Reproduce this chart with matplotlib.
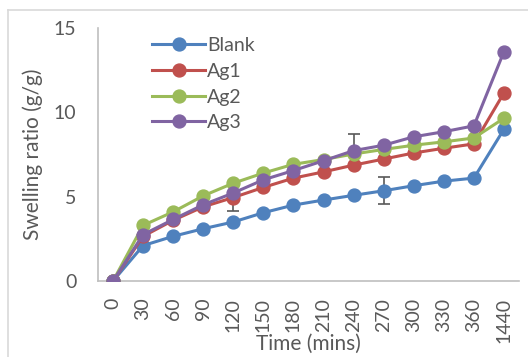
import matplotlib
matplotlib.use("Agg")
import matplotlib.pyplot as plt
from matplotlib.lines import Line2D
import numpy as np

times = ["0", "30", "60", "90", "120", "150", "180", "210", "240", "270", "300", "330", "360", "1440"]
blank = [0, 2.1, 2.65, 3.1, 3.5, 4.05, 4.5, 4.8, 5.08, 5.35, 5.65, 5.92, 6.1, 9.0]
ag1 = [0, 2.65, 3.6, 4.4, 4.95, 5.55, 6.1, 6.47, 6.87, 7.23, 7.59, 7.87, 8.13, 11.15]
ag2 = [0, 3.3, 4.1, 5.05, 5.8, 6.4, 6.92, 7.2, 7.53, 7.8, 8.05, 8.25, 8.48, 9.65]
ag3 = [0, 2.75, 3.65, 4.52, 5.22, 6.0, 6.55, 7.13, 7.73, 8.05, 8.55, 8.85, 9.2, 13.6]
blank_err = [0, 0, 0, 0, 0, 0, 0, 0, 0, 0.8, 0, 0, 0, 0]
ag1_err = [0, 0, 0, 0, 0.8, 0, 0, 0, 0, 0, 0, 0, 0, 0]
ag2_err = [0] * 14
ag3_err = [0, 0, 0, 0, 0, 0, 0, 0, 1.0, 0, 0, 0, 0, 0]

series = [
    ("Blank", blank, blank_err, "#4f81bd"),
    ("Ag1", ag1, ag1_err, "#c0504d"),
    ("Ag2", ag2, ag2_err, "#9bbb59"),
    ("Ag3", ag3, ag3_err, "#8064a2"),
]

plt.rcParams['font.family'] = ['Lato', 'DejaVu Sans']
W, H = 528, 357
fig = plt.figure(figsize=(W / 100, H / 100), dpi=100)
ax = fig.add_axes([98 / W, 1 - 281 / H, 421 / W, 253 / H])

x = np.arange(len(times))
for name, vals, err, col in series:
    err = np.array(err, dtype=float)
    m = err > 0
    if m.any():
        ax.errorbar(x[m], np.array(vals)[m], yerr=err[m], fmt='none', ecolor='#595959',
                    elinewidth=1.2, capsize=4, capthick=1.2, zorder=1)
for name, vals, err, col in series:
    ax.plot(x, vals, color=col, lw=2.2, marker='o', markersize=9.3, label=name, zorder=3)

ax.set_xlim(-0.5, len(times) - 0.5)
ax.set_ylim(0, 15)
ax.set_yticks([0, 5, 10, 15])
ax.set_xticks(x)
ax.set_xticklabels(times, rotation=90)
ax.tick_params(axis='both', length=0, labelsize=14, colors='#595959')
ax.tick_params(axis='y', pad=15.5)
ax.tick_params(axis='x', pad=12)
for s in ['top', 'right']:
    ax.spines[s].set_visible(False)
for s in ['left', 'bottom']:
    ax.spines[s].set_color('#bfbfbf')
    ax.spines[s].set_linewidth(1.2)

ax.set_xlabel("Time (mins)", fontsize=15, color='#595959', va='center')
ax.xaxis.set_label_coords(0.5, (281 - 344) / 253)
ax.set_ylabel("Swelling ratio (g/g)", fontsize=15, color='#595959', va='center')
ax.yaxis.set_label_coords((33 - 98) / 421, 0.5)

leg = ax.legend(loc='upper left', bbox_to_anchor=((152 - 98) / 421, (281 - 37) / 253),
                frameon=False, fontsize=14, handlelength=2.75, handletextpad=0.1,
                labelspacing=0.45, borderpad=0, borderaxespad=0)
for t in leg.get_texts():
    t.set_color('#595959')

fig.add_artist(Line2D([8 / W, 8 / W], [0, 1 - 10 / H], color='#d9d9d9', lw=1.2, transform=fig.transFigure))
fig.add_artist(Line2D([8 / W, 1], [1 - 10 / H, 1 - 10 / H], color='#d9d9d9', lw=1.2, transform=fig.transFigure))

fig.savefig("out.png", dpi=100)
